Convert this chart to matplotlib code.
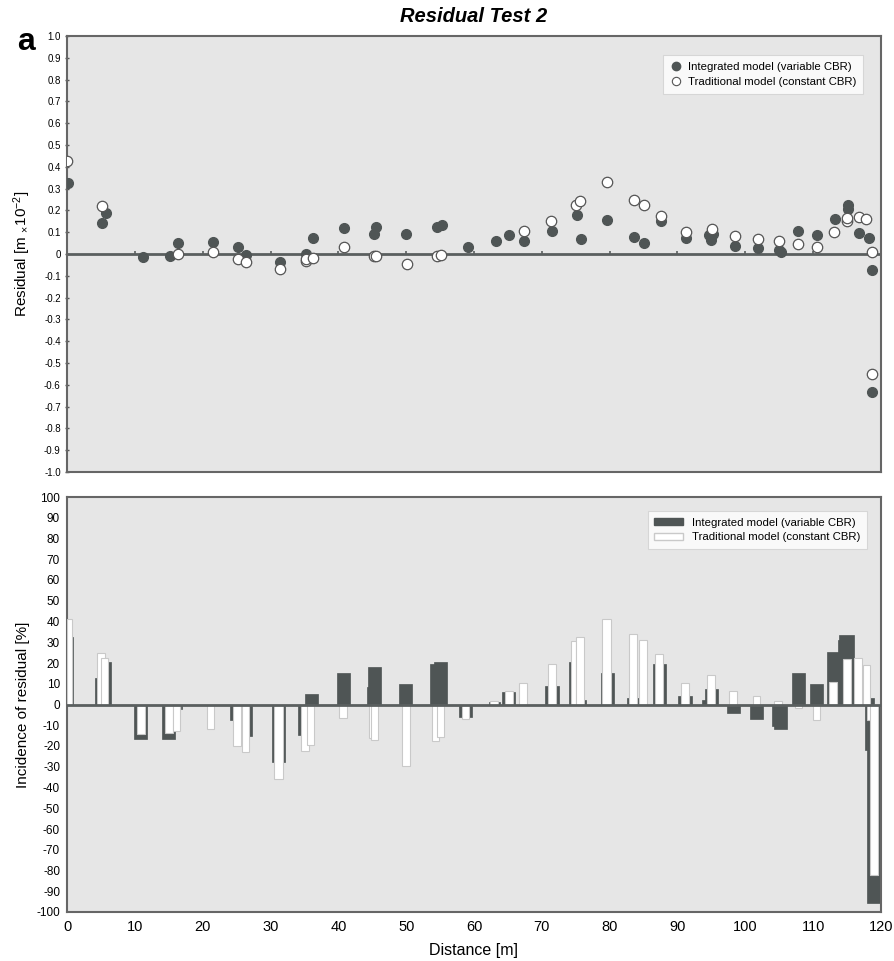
import numpy as np
import matplotlib
matplotlib.use("Agg")
import matplotlib.pyplot as plt
from matplotlib.patches import Patch
from matplotlib.lines import Line2D

plt.rcParams["font.family"] = ["Liberation Sans", "DejaVu Sans"]
plt.rcParams["mathtext.fontset"] = "custom"
plt.rcParams["mathtext.rm"] = "Liberation Sans"
plt.rcParams["mathtext.it"] = "Liberation Sans:italic"
plt.rcParams["axes.unicode_minus"] = False

# --- residuals [m x 10^-2] ---
int_dist = [0.1, 5.1, 5.7, 11.2, 15.2, 16.4, 21.5, 25.2, 26.4, 31.4, 35.2, 36.2,
            40.8, 45.3, 45.6, 50.0, 54.6, 55.3, 59.1, 63.3, 65.2, 67.4, 71.5,
            75.2, 75.8, 79.6, 83.6, 85.1, 87.5, 91.3, 94.7, 95.2, 95.0, 98.5,
            101.8, 104.9, 105.3, 107.8, 110.5, 113.2, 115.1, 115.1, 116.8,
            118.2, 118.6, 118.6]
int_res = [0.326, 0.14, 0.19, -0.015, -0.01, 0.05, 0.055, 0.03, -0.005, -0.035,
           0.0, 0.075, 0.12, 0.09, 0.125, 0.09, 0.125, 0.135, 0.033, 0.06, 0.085,
           0.06, 0.105, 0.18, 0.07, 0.155, 0.08, 0.05, 0.15, 0.075, 0.085, 0.09,
           0.065, 0.037, 0.028, 0.018, 0.01, 0.105, 0.088, 0.16, 0.225, 0.205,
           0.095, 0.075, -0.073, -0.633]

trad_dist = [0.0, 5.1, 16.4, 21.5, 25.2, 26.4, 31.4, 35.2, 35.3, 36.2, 40.8,
             45.2, 45.6, 50.1, 54.5, 55.2, 67.4, 71.4, 75.0, 75.7, 79.6, 83.6,
             85.0, 87.5, 91.3, 95.1, 98.5, 101.8, 104.9, 107.8, 110.6, 113.0,
             115.0, 115.0, 116.8, 117.8, 118.6, 118.6]
trad_res = [0.427, 0.22, 0.002, 0.008, -0.022, -0.037, -0.068, -0.03, -0.025,
            -0.018, 0.03, -0.008, -0.01, -0.045, -0.01, -0.005, 0.105, 0.15,
            0.225, 0.245, 0.33, 0.25, 0.225, 0.175, 0.1, 0.115, 0.082, 0.07,
            0.06, 0.045, 0.03, 0.1, 0.15, 0.165, 0.17, 0.16, 0.01, -0.55]

# --- incidence of residual [%]: bar start, bar end [m] and value ---
int_x0 = [0.0, 4.1, 5.0, 9.9, 14.0, 16.8, 24.0, 25.8, 30.2, 34.1, 35.1, 39.8,
          44.2, 44.4, 48.9, 53.5, 54.1, 57.8, 62.2, 64.1, 70.5, 74.0, 75.0,
          78.7, 82.6, 86.4, 90.1, 93.6, 94.0, 97.3, 100.7, 103.9, 104.2, 106.9,
          109.5, 112.0, 113.6, 113.8, 118.4, 117.6, 117.9]
int_x1 = [0.9, 5.3, 6.5, 11.8, 15.9, 17.0, 25.5, 27.3, 32.1, 35.5, 37.0, 41.7,
          45.0, 46.3, 50.9, 54.8, 56.0, 59.7, 63.8, 66.0, 72.5, 75.5, 76.5,
          80.6, 84.3, 88.3, 92.1, 94.4, 96.0, 99.2, 102.6, 104.5, 106.2, 108.8,
          111.5, 113.8, 114.4, 116.0, 118.9, 118.0, 119.9]
int_pct = [32.7, 13, 20.5, -16.4, -16.4, -2, -7.5, -15, -27.5, -14.5, 5, 15,
           8.2, 18.3, 10, 19.7, 20.7, -6, 1, 6.2, 8.7, 20.7, 2, 15, 3, 19.7,
           4.3, 2, 7.7, -4.3, -7, -10.5, -11.6, 15.4, 9.8, 25.5, 31, 33.7, 3,
           -22, -95.6]

trad_x0 = [0.0, 4.4, 5.0, 10.3, 14.4, 15.6, 20.6, 24.5, 25.8, 30.5, 34.5, 35.4,
           40.1, 44.5, 44.8, 49.4, 53.8, 54.6, 58.2, 62.4, 64.6, 66.6, 70.9,
           74.3, 75.0, 78.9, 82.9, 84.3, 86.7, 90.5, 94.4, 97.6, 101.1, 104.2,
           107.3, 110.0, 112.3, 114.4, 116.0, 117.4, 117.9, 118.4]
trad_x1 = [0.7, 5.6, 6.0, 11.5, 15.6, 16.7, 21.7, 25.7, 26.9, 31.8, 35.7, 36.4,
           41.3, 45.7, 45.9, 50.6, 54.8, 55.6, 59.3, 63.6, 65.8, 67.8, 72.1,
           75.0, 76.2, 80.2, 84.0, 85.5, 87.9, 91.7, 95.5, 98.8, 102.2, 105.4,
           108.4, 111.0, 113.5, 115.6, 117.2, 118.4, 118.4, 119.6]
trad_pct = [41.4, 25, 22.5, -14, -13.5, -13, -11.6, -20, -23, -36, -22.5, -19.6,
            -6.5, -16, -17, -29.4, -17.5, -15.5, -7, 1.5, 6.3, 10.6, 19.7, 30.4,
            32.3, 41.4, 34, 31, 24.5, 10.6, 14, 6.7, 3.9, 1.5, -1.5, -7.7, 11,
            21.7, 22.6, 18.8, -7.7, -82]

res_ticks = np.round(np.arange(-1.0, 1.01, 0.1), 1)
res_labels = ["0" if t == 0 else f"{t:.1f}" for t in res_ticks]
pct_ticks = np.arange(-100, 101, 10)
dist_ticks = np.arange(0, 121, 10)
legend_labels = ["Integrated model (variable CBR)",
                 "Traditional model (constant CBR)"]

DARK = "#4f5555"
BG = "#e6e6e6"
EDGE = "#c9c9c9"
SPINE = "#666666"

W, H = 895, 961
fig = plt.figure(figsize=(W / 100, H / 100), dpi=100)
ax1 = fig.add_axes([67 / W, 1 - 472 / H, 814 / W, 436 / H])
ax2 = fig.add_axes([67 / W, 1 - 912 / H, 814 / W, 415 / H])

for ax in (ax1, ax2):
    ax.set_facecolor(BG)
    ax.set_xlim(0, 120)
    for s in ax.spines.values():
        s.set_color(SPINE)
        s.set_linewidth(1.5)

# top panel: residual scatter
ax1.axhline(0, color="#5a5f5f", lw=2, zorder=2)
ax1.vlines(dist_ticks[1:-1], 0, 0.015, color="#5a5f5f", lw=1.2, zorder=2)
ax1.plot(int_dist, int_res, "o", ms=7, mfc=DARK, mec=DARK, zorder=3)
ax1.plot(trad_dist, trad_res, "o", ms=7.5, mfc="white", mec="#555555",
         mew=0.9, zorder=4)
ax1.set_ylim(-1.0, 1.0)
ax1.set_yticks(res_ticks)
ax1.set_yticklabels(res_labels)
ax1.tick_params(axis="y", labelsize=7, length=3, width=1, color="#555555",
                direction="inout", pad=3)
ax1.tick_params(axis="x", bottom=False, labelbottom=False)
ax1.set_ylabel(r"Residual [m $_{\times}$10$^{-2}$]", fontsize=11)
ax1.yaxis.set_label_coords(-0.042, 0.5)

h1 = [Line2D([], [], ls="none", marker="o", ms=6, mfc=DARK, mec=DARK),
      Line2D([], [], ls="none", marker="o", ms=6, mfc="white", mec="#555555", mew=0.8)]
leg1 = ax1.legend(h1, legend_labels, loc="upper right",
                  bbox_to_anchor=(0.985, 0.97), fontsize=8.2, frameon=True,
                  fancybox=False, handletextpad=0.4, borderpad=0.6,
                  labelspacing=0.45, handlelength=1.2)
leg1.get_frame().set_edgecolor("#d0d0d0")
leg1.get_frame().set_linewidth(0.8)

# bottom panel: incidence bars, dark behind white
int_w = np.array(int_x1) - np.array(int_x0)
trad_w = np.array(trad_x1) - np.array(trad_x0)
ax2.bar(int_x0, int_pct, width=int_w, align="edge", color=DARK,
        edgecolor=DARK, lw=0.5, zorder=2)
ax2.bar(trad_x0, trad_pct, width=trad_w, align="edge", color="white",
        edgecolor=EDGE, lw=0.8, zorder=3)
ax2.axhline(0, color="#5a5f5f", lw=2, zorder=4)
ax2.set_ylim(-100, 100)
ax2.set_yticks(pct_ticks)
ax2.set_xticks(dist_ticks)
ax2.tick_params(axis="y", labelsize=8.5, length=0, pad=5)
ax2.tick_params(axis="x", labelsize=10.5, length=0, pad=6)
ax2.set_ylabel("Incidence of residual [%]", fontsize=11)
ax2.yaxis.set_label_coords(-0.046, 0.5)
ax2.set_xlabel("Distance [m]", fontsize=11.5, labelpad=6)

h2 = [Patch(facecolor=DARK, edgecolor=DARK),
      Patch(facecolor="white", edgecolor=EDGE)]
leg2 = ax2.legend(h2, legend_labels, loc="upper right",
                  bbox_to_anchor=(0.99, 0.98), fontsize=8.2, frameon=True,
                  fancybox=False, handletextpad=0.8, borderpad=0.6,
                  labelspacing=0.4, handlelength=2.5, handleheight=0.6)
leg2.get_frame().set_edgecolor("#d0d0d0")
leg2.get_frame().set_linewidth(0.8)

fig.text(474 / W, 1 - 17 / H, "Residual Test 2", ha="center", va="center",
         fontsize=14.5, fontweight="bold", fontstyle="italic")
fig.text(17 / W, 1 - 42 / H, "a", ha="left", va="center", fontsize=23,
         fontweight="bold")

fig.savefig("out.png", dpi=100, facecolor="white")
